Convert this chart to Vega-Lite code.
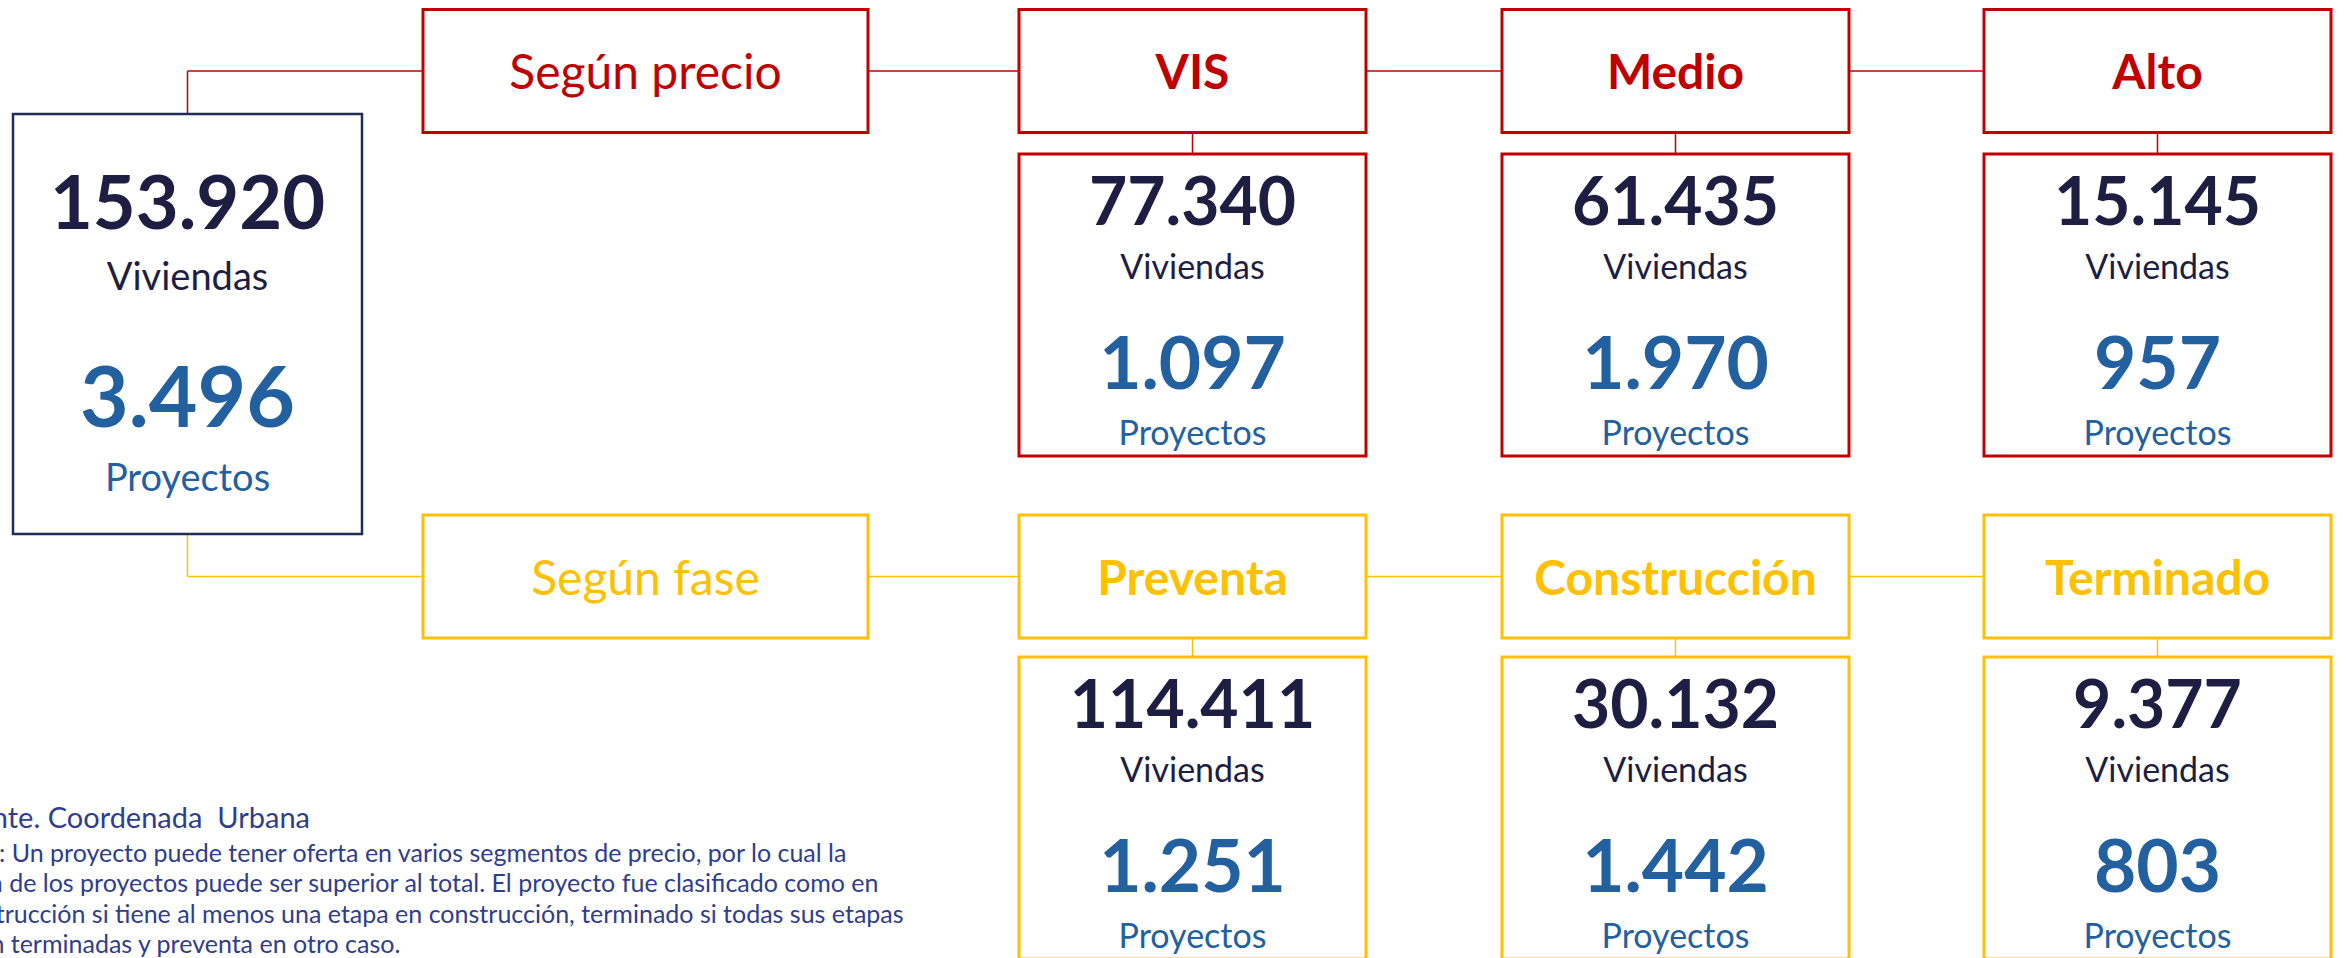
{
  "$schema": "https://vega.github.io/schema/vega-lite/v6.json",
  "width": 2346,
  "height": 958,
  "autosize": {"type": "none"},
  "padding": 0,
  "background": "white",
  "config": {
    "view": {"stroke": null},
    "locale": {"number": {"decimal": ",", "thousands": ".", "grouping": [3], "currency": ["$", ""]}},
    "text": {"font": "Lato"}
  },
  "datasets": {
    "conexiones": [
      {"criterio": "precio", "columna": 1, "columna2": 5, "nivel": 1, "nivel2": 1},
      {"criterio": "precio", "columna": 1, "columna2": 1, "nivel": 1, "nivel2": 3},
      {"criterio": "precio", "columna": 3, "columna2": 3, "nivel": 1, "nivel2": 2},
      {"criterio": "precio", "columna": 4, "columna2": 4, "nivel": 1, "nivel2": 2},
      {"criterio": "precio", "columna": 5, "columna2": 5, "nivel": 1, "nivel2": 2},
      {"criterio": "fase", "columna": 1, "columna2": 5, "nivel": 4, "nivel2": 4},
      {"criterio": "fase", "columna": 1, "columna2": 1, "nivel": 3, "nivel2": 4},
      {"criterio": "fase", "columna": 3, "columna2": 3, "nivel": 4, "nivel2": 5},
      {"criterio": "fase", "columna": 4, "columna2": 4, "nivel": 4, "nivel2": 5},
      {"criterio": "fase", "columna": 5, "columna2": 5, "nivel": 4, "nivel2": 5}
    ],
    "total": [{"columna": 1, "nivel": 3, "viviendas": 153920, "proyectos": 3496}],
    "criterios": [
      {"criterio": "precio", "nombre": "Según precio", "columna": 2, "nivel": 1},
      {"criterio": "fase", "nombre": "Según fase", "columna": 2, "nivel": 4}
    ],
    "segmentos": [
      {"criterio": "precio", "nombre": "VIS", "columna": 3, "nivel": 1},
      {"criterio": "precio", "nombre": "Medio", "columna": 4, "nivel": 1},
      {"criterio": "precio", "nombre": "Alto", "columna": 5, "nivel": 1},
      {"criterio": "fase", "nombre": "Preventa", "columna": 3, "nivel": 4},
      {"criterio": "fase", "nombre": "Construcción", "columna": 4, "nivel": 4},
      {"criterio": "fase", "nombre": "Terminado", "columna": 5, "nivel": 4}
    ],
    "cifras": [
      {"criterio": "precio", "nombre": "VIS", "columna": 3, "nivel": 2, "viviendas": 77340, "proyectos": 1097},
      {"criterio": "precio", "nombre": "Medio", "columna": 4, "nivel": 2, "viviendas": 61435, "proyectos": 1970},
      {"criterio": "precio", "nombre": "Alto", "columna": 5, "nivel": 2, "viviendas": 15145, "proyectos": 957},
      {"criterio": "fase", "nombre": "Preventa", "columna": 3, "nivel": 5, "viviendas": 114411, "proyectos": 1251},
      {"criterio": "fase", "nombre": "Construcción", "columna": 4, "nivel": 5, "viviendas": 30132, "proyectos": 1442},
      {"criterio": "fase", "nombre": "Terminado", "columna": 5, "nivel": 5, "viviendas": 9377, "proyectos": 803}
    ],
    "notas": [
      {"linea": 1, "tipo": "fuente", "texto": "Fuente. Coordenada\u00a0 Urbana"},
      {"linea": 2, "tipo": "nota", "texto": "Nota: Un proyecto puede tener oferta en varios segmentos de precio, por lo cual la"},
      {"linea": 3, "tipo": "nota", "texto": "suma de los proyectos puede ser superior al total. El proyecto fue clasificado como en"},
      {"linea": 4, "tipo": "nota", "texto": "construcción si tiene al menos una etapa en construcción, terminado si todas sus etapas"},
      {"linea": 5, "tipo": "nota", "texto": "están terminadas y preventa en otro caso."}
    ]
  },
  "resolve": {"scale": {"y": "independent"}},
  "layer": [
    {
      "data": {"name": "conexiones"},
      "mark": {"type": "rule", "strokeWidth": 1.5},
      "encoding": {
        "x": {"field": "columna", "type": "quantitative", "axis": null, "scale": {"domain": [0, 1, 2, 3, 4, 5], "range": [-55, 187.5, 645.5, 1192.5, 1675.5, 2157.5], "zero": false, "nice": false}},
        "x2": {"field": "columna2"},
        "y": {"field": "nivel", "type": "quantitative", "axis": null, "scale": {"domain": [1, 2, 3, 4, 5], "range": [71, 305, 324, 576.5, 808], "zero": false, "nice": false}},
        "y2": {"field": "nivel2"},
        "color": {"field": "criterio", "type": "nominal", "legend": null, "scale": {"domain": ["precio", "fase"], "range": ["#C00000", "#FFC000"]}}
      }
    },
    {
      "data": {"name": "total"},
      "mark": {"type": "rect", "width": 349, "height": 420, "fill": "white", "stroke": "#1F2D58", "strokeWidth": 2.5},
      "encoding": {
        "x": {"field": "columna", "type": "quantitative", "axis": null, "scale": {"domain": [0, 1, 2, 3, 4, 5], "range": [-55, 187.5, 645.5, 1192.5, 1675.5, 2157.5], "zero": false, "nice": false}},
        "y": {"field": "nivel", "type": "quantitative", "axis": null, "scale": {"domain": [1, 2, 3, 4, 5], "range": [71, 305, 324, 576.5, 808], "zero": false, "nice": false}}
      }
    },
    {
      "data": {"name": "criterios"},
      "mark": {"type": "rect", "width": 445, "height": 123, "fill": "white", "strokeWidth": 3},
      "encoding": {
        "x": {"field": "columna", "type": "quantitative", "axis": null, "scale": {"domain": [0, 1, 2, 3, 4, 5], "range": [-55, 187.5, 645.5, 1192.5, 1675.5, 2157.5], "zero": false, "nice": false}},
        "y": {"field": "nivel", "type": "quantitative", "axis": null, "scale": {"domain": [1, 2, 3, 4, 5], "range": [71, 305, 324, 576.5, 808], "zero": false, "nice": false}},
        "stroke": {"field": "criterio", "type": "nominal", "legend": null, "scale": {"domain": ["precio", "fase"], "range": ["#C00000", "#FFC000"]}}
      }
    },
    {
      "data": {"name": "segmentos"},
      "mark": {"type": "rect", "width": 347, "height": 123, "fill": "white", "strokeWidth": 3},
      "encoding": {
        "x": {"field": "columna", "type": "quantitative", "axis": null, "scale": {"domain": [0, 1, 2, 3, 4, 5], "range": [-55, 187.5, 645.5, 1192.5, 1675.5, 2157.5], "zero": false, "nice": false}},
        "y": {"field": "nivel", "type": "quantitative", "axis": null, "scale": {"domain": [1, 2, 3, 4, 5], "range": [71, 305, 324, 576.5, 808], "zero": false, "nice": false}},
        "stroke": {"field": "criterio", "type": "nominal", "legend": null, "scale": {"domain": ["precio", "fase"], "range": ["#C00000", "#FFC000"]}}
      }
    },
    {
      "data": {"name": "cifras"},
      "mark": {"type": "rect", "width": 347, "height": 302, "fill": "white", "strokeWidth": 3},
      "encoding": {
        "x": {"field": "columna", "type": "quantitative", "axis": null, "scale": {"domain": [0, 1, 2, 3, 4, 5], "range": [-55, 187.5, 645.5, 1192.5, 1675.5, 2157.5], "zero": false, "nice": false}},
        "y": {"field": "nivel", "type": "quantitative", "axis": null, "scale": {"domain": [1, 2, 3, 4, 5], "range": [71, 305, 324, 576.5, 808], "zero": false, "nice": false}},
        "stroke": {"field": "criterio", "type": "nominal", "legend": null, "scale": {"domain": ["precio", "fase"], "range": ["#C00000", "#FFC000"]}}
      }
    },
    {
      "data": {"name": "total"},
      "mark": {"type": "text", "fontSize": 74, "fontWeight": "bold", "color": "#1D1E42", "baseline": "alphabetic", "dy": -95},
      "encoding": {
        "x": {"field": "columna", "type": "quantitative", "axis": null, "scale": {"domain": [0, 1, 2, 3, 4, 5], "range": [-55, 187.5, 645.5, 1192.5, 1675.5, 2157.5], "zero": false, "nice": false}},
        "y": {"field": "nivel", "type": "quantitative", "axis": null, "scale": {"domain": [1, 2, 3, 4, 5], "range": [71, 305, 324, 576.5, 808], "zero": false, "nice": false}},
        "text": {"field": "viviendas", "type": "quantitative", "format": ",d"}
      }
    },
    {
      "data": {"name": "total"},
      "mark": {"type": "text", "fontSize": 38, "color": "#1D1E42", "baseline": "alphabetic", "dy": -34, "text": "Viviendas"},
      "encoding": {
        "x": {"field": "columna", "type": "quantitative", "axis": null, "scale": {"domain": [0, 1, 2, 3, 4, 5], "range": [-55, 187.5, 645.5, 1192.5, 1675.5, 2157.5], "zero": false, "nice": false}},
        "y": {"field": "nivel", "type": "quantitative", "axis": null, "scale": {"domain": [1, 2, 3, 4, 5], "range": [71, 305, 324, 576.5, 808], "zero": false, "nice": false}}
      }
    },
    {
      "data": {"name": "total"},
      "mark": {"type": "text", "fontSize": 84, "fontWeight": "bold", "color": "#2360A0", "baseline": "alphabetic", "dy": 103},
      "encoding": {
        "x": {"field": "columna", "type": "quantitative", "axis": null, "scale": {"domain": [0, 1, 2, 3, 4, 5], "range": [-55, 187.5, 645.5, 1192.5, 1675.5, 2157.5], "zero": false, "nice": false}},
        "y": {"field": "nivel", "type": "quantitative", "axis": null, "scale": {"domain": [1, 2, 3, 4, 5], "range": [71, 305, 324, 576.5, 808], "zero": false, "nice": false}},
        "text": {"field": "proyectos", "type": "quantitative", "format": ",d"}
      }
    },
    {
      "data": {"name": "total"},
      "mark": {"type": "text", "fontSize": 38, "color": "#2360A0", "baseline": "alphabetic", "dy": 167, "text": "Proyectos"},
      "encoding": {
        "x": {"field": "columna", "type": "quantitative", "axis": null, "scale": {"domain": [0, 1, 2, 3, 4, 5], "range": [-55, 187.5, 645.5, 1192.5, 1675.5, 2157.5], "zero": false, "nice": false}},
        "y": {"field": "nivel", "type": "quantitative", "axis": null, "scale": {"domain": [1, 2, 3, 4, 5], "range": [71, 305, 324, 576.5, 808], "zero": false, "nice": false}}
      }
    },
    {
      "data": {"name": "criterios"},
      "mark": {"type": "text", "fontSize": 48, "baseline": "alphabetic", "dy": 18},
      "encoding": {
        "x": {"field": "columna", "type": "quantitative", "axis": null, "scale": {"domain": [0, 1, 2, 3, 4, 5], "range": [-55, 187.5, 645.5, 1192.5, 1675.5, 2157.5], "zero": false, "nice": false}},
        "y": {"field": "nivel", "type": "quantitative", "axis": null, "scale": {"domain": [1, 2, 3, 4, 5], "range": [71, 305, 324, 576.5, 808], "zero": false, "nice": false}},
        "text": {"field": "nombre"},
        "color": {"field": "criterio", "type": "nominal", "legend": null, "scale": {"domain": ["precio", "fase"], "range": ["#C00000", "#FFC000"]}}
      }
    },
    {
      "data": {"name": "segmentos"},
      "mark": {"type": "text", "fontSize": 48, "fontWeight": "bold", "baseline": "alphabetic", "dy": 18},
      "encoding": {
        "x": {"field": "columna", "type": "quantitative", "axis": null, "scale": {"domain": [0, 1, 2, 3, 4, 5], "range": [-55, 187.5, 645.5, 1192.5, 1675.5, 2157.5], "zero": false, "nice": false}},
        "y": {"field": "nivel", "type": "quantitative", "axis": null, "scale": {"domain": [1, 2, 3, 4, 5], "range": [71, 305, 324, 576.5, 808], "zero": false, "nice": false}},
        "text": {"field": "nombre"},
        "color": {"field": "criterio", "type": "nominal", "legend": null, "scale": {"domain": ["precio", "fase"], "range": ["#C00000", "#FFC000"]}}
      }
    },
    {
      "data": {"name": "cifras"},
      "mark": {"type": "text", "fontSize": 66, "fontWeight": "bold", "color": "#1D1E42", "baseline": "alphabetic", "dy": -80},
      "encoding": {
        "x": {"field": "columna", "type": "quantitative", "axis": null, "scale": {"domain": [0, 1, 2, 3, 4, 5], "range": [-55, 187.5, 645.5, 1192.5, 1675.5, 2157.5], "zero": false, "nice": false}},
        "y": {"field": "nivel", "type": "quantitative", "axis": null, "scale": {"domain": [1, 2, 3, 4, 5], "range": [71, 305, 324, 576.5, 808], "zero": false, "nice": false}},
        "text": {"field": "viviendas", "type": "quantitative", "format": ",d"}
      }
    },
    {
      "data": {"name": "cifras"},
      "mark": {"type": "text", "fontSize": 34, "color": "#1D1E42", "baseline": "alphabetic", "dy": -26, "text": "Viviendas"},
      "encoding": {
        "x": {"field": "columna", "type": "quantitative", "axis": null, "scale": {"domain": [0, 1, 2, 3, 4, 5], "range": [-55, 187.5, 645.5, 1192.5, 1675.5, 2157.5], "zero": false, "nice": false}},
        "y": {"field": "nivel", "type": "quantitative", "axis": null, "scale": {"domain": [1, 2, 3, 4, 5], "range": [71, 305, 324, 576.5, 808], "zero": false, "nice": false}}
      }
    },
    {
      "data": {"name": "cifras"},
      "mark": {"type": "text", "fontSize": 73, "fontWeight": "bold", "color": "#2360A0", "baseline": "alphabetic", "dy": 84},
      "encoding": {
        "x": {"field": "columna", "type": "quantitative", "axis": null, "scale": {"domain": [0, 1, 2, 3, 4, 5], "range": [-55, 187.5, 645.5, 1192.5, 1675.5, 2157.5], "zero": false, "nice": false}},
        "y": {"field": "nivel", "type": "quantitative", "axis": null, "scale": {"domain": [1, 2, 3, 4, 5], "range": [71, 305, 324, 576.5, 808], "zero": false, "nice": false}},
        "text": {"field": "proyectos", "type": "quantitative", "format": ",d"}
      }
    },
    {
      "data": {"name": "cifras"},
      "mark": {"type": "text", "fontSize": 34, "color": "#2360A0", "baseline": "alphabetic", "dy": 140, "text": "Proyectos"},
      "encoding": {
        "x": {"field": "columna", "type": "quantitative", "axis": null, "scale": {"domain": [0, 1, 2, 3, 4, 5], "range": [-55, 187.5, 645.5, 1192.5, 1675.5, 2157.5], "zero": false, "nice": false}},
        "y": {"field": "nivel", "type": "quantitative", "axis": null, "scale": {"domain": [1, 2, 3, 4, 5], "range": [71, 305, 324, 576.5, 808], "zero": false, "nice": false}}
      }
    },
    {
      "data": {"name": "notas"},
      "mark": {"type": "text", "color": "#2F3D8E", "baseline": "alphabetic", "align": "left"},
      "encoding": {
        "x": {"datum": 0, "type": "quantitative", "axis": null, "scale": {"domain": [0, 1, 2, 3, 4, 5], "range": [-55, 187.5, 645.5, 1192.5, 1675.5, 2157.5], "zero": false, "nice": false}},
        "y": {"field": "linea", "type": "quantitative", "axis": null, "scale": {"domain": [1, 2, 5], "range": [828, 862, 953], "zero": false, "nice": false}},
        "text": {"field": "texto"},
        "size": {"field": "tipo", "type": "nominal", "legend": null, "scale": {"domain": ["fuente", "nota"], "range": [29, 25]}}
      }
    }
  ]
}
